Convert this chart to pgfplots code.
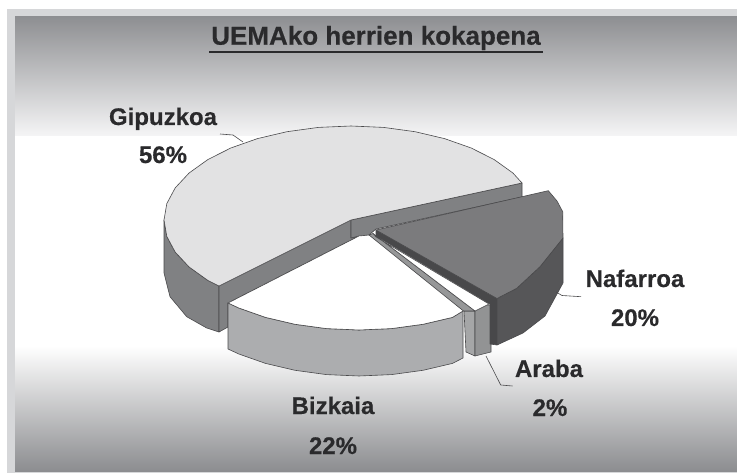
\documentclass[border=0pt]{standalone}
\usepackage{pgfplots}
\pgfplotsset{compat=1.18}
\usepackage{fontspec}
\setmainfont{Liberation Sans}
\newfontfamily\lab[BoldFeatures={FakeBold=0.4}]{Liberation Sans}
\definecolor{txt}{HTML}{2A2A2C}
\definecolor{edge}{HTML}{4A4A4C}
\begin{document}
\begin{tikzpicture}
\begin{axis}[
  scale only axis, width=737pt, height=473pt,
  xmin=0, xmax=737, ymin=0, ymax=473, y dir=reverse,
  hide axis, clip=true,
  every axis plot/.append style={line join=round, line width=0.6pt}
]
% panel
\addplot[draw=none, fill=white] coordinates {(0,0)(737,0)(737,473)(0,473)} -- cycle;
\addplot[draw=none, fill={rgb,255:red,214;green,215;blue,217}] coordinates {(7,9)(737,9)(737,473)(7,473)} -- cycle;
\addplot[draw=none, top color={rgb,255:red,142;green,143;blue,146}, bottom color={rgb,255:red,245;green,245;blue,246}] coordinates {(15,17)(737,17)(737,136)(15,136)} -- cycle;
\addplot[draw=none, fill=white] coordinates {(15,136)(737,136)(737,346)(15,346)} -- cycle;
\addplot[draw=none, top color=white, bottom color={rgb,255:red,140;green,141;blue,144}] coordinates {(15,346)(737,346)(737,471)(15,471)} -- cycle;
% Gipuzkoa outer wall
\addplot[draw=edge, fill={rgb,255:red,128;green,129;blue,131}] coordinates {(164,220)(166.8,236.4)(175.2,252.1)(189.1,267)(207.8,280.4)(219,286)(219,332)(206.7,328)(186.7,316.7)(170,296.7)(164,273)} -- cycle;
% Gipuzkoa inner walls
\addplot[draw=edge, fill={rgb,255:red,128;green,129;blue,131}] coordinates {(351,220)(219,286)(219,332)(228,327)(228,303)(359,236)(351,238)} -- cycle;
\addplot[draw=edge, fill={rgb,255:red,128;green,129;blue,131}] coordinates {(351,220)(522,183)(522,197)(376,229)(369,235)(359,236)(351,238)} -- cycle;
% Gipuzkoa top
\addplot[draw=edge, fill={rgb,255:red,226;green,226;blue,227}] coordinates {(522,183)(512.9,173)(494.2,159.6)(471.2,148)(444.5,138.6)(415,131.7)(383.5,127.4)(351,126)(318.5,127.4)(287,131.7)(257.5,138.6)(230.8,148)(207.8,159.6)(189.1,173)(175.2,187.9)(166.8,203.6)(164,220)(166.8,236.4)(175.2,252.1)(189.1,267)(207.8,280.4)(219,286)(351,220)} -- cycle;
% Bizkaia wall
\addplot[draw=edge, fill={rgb,255:red,172;green,173;blue,175}] coordinates {(228,303)(238.8,308)(265.5,317.4)(295,324.3)(326.5,328.6)(359,330)(391.5,328.6)(423,324.3)(452.5,317.4)(463,311)(463,358)(452.5,363.4)(423,370.3)(391.5,374.6)(359,376)(326.5,374.6)(295,370.3)(265.5,363.4)(238.8,354)(228,349)} -- cycle;
% Bizkaia top
\addplot[draw=none, fill=white] coordinates {(359,236)(228,303)(238.8,308)(265.5,317.4)(295,324.3)(326.5,328.6)(359,330)(391.5,328.6)(423,324.3)(452.5,317.4)(463,311)} -- cycle;
\addplot[draw=edge] coordinates {(359,236)(228,303)(238.8,308)(265.5,317.4)(295,324.3)(326.5,328.6)(359,330)(391.5,328.6)(423,324.3)(452.5,317.4)(463,311)};
% Araba
\addplot[draw=edge, fill={rgb,255:red,165;green,166;blue,167}] coordinates {(464,311)(475,311)(475,356)(466,352)} -- cycle;
\addplot[draw=edge, fill={rgb,255:red,146;green,147;blue,148}] coordinates {(475,311)(487,305)(491,305)(491,352)(475,356)} -- cycle;
\addplot[draw=edge, fill={rgb,255:red,150;green,151;blue,152}] coordinates {(369,235)(373,233.5)(475,311)(463.5,311)} -- cycle;
\addplot[draw=edge, fill=white] coordinates {(373,233.5)(376,237)(489,304)(475,311)} -- cycle;
% Nafarroa
\addplot[draw=edge, fill={rgb,255:red,72;green,72;blue,74}] coordinates {(376,230)(497,298.5)(497,345)(490,344)(490,304)(376,236)} -- cycle;
\addplot[draw=edge, fill={rgb,255:red,86;green,86;blue,88}] coordinates {(563,238)(540,266.7)(516.7,288.3)(497,298.5)(497,345)(523,333)(545,316)(563,283)} -- cycle;
\addplot[draw=edge, fill={rgb,255:red,123;green,123;blue,125}] coordinates {(376,230)(548.3,190.7)(557,201)(562.7,211.7)(563,238)(540,266.7)(516.7,288.3)(497,298.5)} -- cycle;
% leaders
\addplot[draw=edge] coordinates {(220,134)(233,135)(243,142)};
\addplot[draw=edge] coordinates {(556,292)(562,295.5)(581,296.7)};
\addplot[draw=edge] coordinates {(486,356)(500.7,385)(512.5,386)};
% underline
\addplot[draw=txt, line width=2.5pt] coordinates {(209,52)(543,52)};
% text
\node[text=txt, font=\lab\bfseries\fontsize{26}{26}\selectfont] at (axis cs:376,38) {UEMAko herrien kokapena};
\tikzset{lb/.style={text=txt, font=\lab\bfseries\fontsize{24}{24}\selectfont, inner sep=0pt, anchor=base}}
\node[lb] at (axis cs:163,125) {Gipuzkoa};
\node[lb] at (axis cs:163,163) {56\%};
\node[lb] at (axis cs:635,287) {Nafarroa};
\node[lb] at (axis cs:635,326) {20\%};
\node[lb] at (axis cs:549,377) {Araba};
\node[lb] at (axis cs:550,416) {2\%};
\node[lb] at (axis cs:333,414) {Bizkaia};
\node[lb] at (axis cs:333,454) {22\%};
\end{axis}
\end{tikzpicture}
\end{document}
